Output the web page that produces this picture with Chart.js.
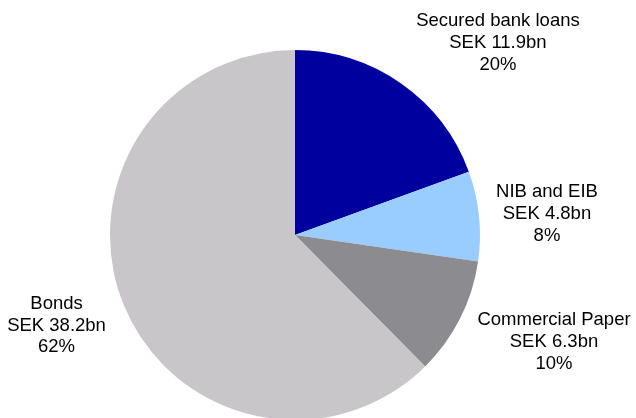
<!DOCTYPE html>
<html><head><meta charset="utf-8">
<script src="https://cdn.jsdelivr.net/npm/chart.js@4"></script>
<style>
html,body{margin:0;padding:0;background:#fff;overflow:hidden;width:636px;height:418px;}
#wrap{width:636px;height:422px;position:relative;}
</style></head>
<body><div id="wrap"><canvas id="c"></canvas></div>
<script>
const categories = ["Secured bank loans", "NIB and EIB", "Commercial Paper", "Bonds"];
const valuesBn = [11.9, 4.8, 6.3, 38.2];
const amountLabels = ["SEK 11.9bn", "SEK 4.8bn", "SEK 6.3bn", "SEK 38.2bn"];
const shareLabels = ["20%", "8%", "10%", "62%"];
const colors = ["#00009E", "#99CCFF", "#8C8B90", "#C8C6C8"];
// label block centre, expressed relative to pie centre in units of radius
const labelOffsets = [[1.097, -1.038], [1.362, -0.114], [1.400, 0.578], [-1.289, 0.489]];

const labelPlugin = {
  id: 'outLabels',
  afterDatasetsDraw(chart) {
    const ctx = chart.ctx;
    const meta = chart.getDatasetMeta(0);
    ctx.save();
    ctx.font = '18.5px "Liberation Sans", Arial, sans-serif';
    ctx.fillStyle = '#000';
    ctx.textAlign = 'center';
    ctx.textBaseline = 'middle';
    meta.data.forEach((arc, i) => {
      const r = arc.outerRadius;
      const cx = arc.x + labelOffsets[i][0] * r;
      const cy = arc.y + labelOffsets[i][1] * r;
      const lines = [categories[i], amountLabels[i], shareLabels[i]];
      const lh = 21.8;
      lines.forEach((t, k) => ctx.fillText(t, cx, cy + (k - 1) * lh));
    });
    ctx.restore();
  }
};

new Chart(document.getElementById('c'), {
  type: 'pie',
  data: {
    labels: categories,
    datasets: [{ data: valuesBn, backgroundColor: colors, borderWidth: 0, hoverOffset: 0 }]
  },
  options: {
    responsive: true,
    maintainAspectRatio: false,
    animation: false,
    layout: { padding: { left: 110, right: 156, top: 50, bottom: 2 } },
    plugins: { legend: { display: false }, tooltip: { enabled: false } }
  },
  plugins: [labelPlugin]
});
</script></body></html>
